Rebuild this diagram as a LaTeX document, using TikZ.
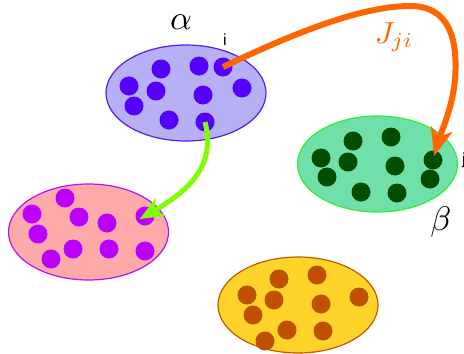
\documentclass[tikz,border=0pt]{standalone}
\usepackage{fontspec}
\newfontfamily\labelsans{Liberation Sans}
\usetikzlibrary{shapes.geometric,arrows.meta}
\definecolor{afill}{HTML}{B8B0F5}\definecolor{aedge}{HTML}{5A1AE8}\definecolor{adot}{HTML}{5500FF}
\definecolor{bfill}{HTML}{70E0AA}\definecolor{bedge}{HTML}{33EE33}\definecolor{bdot}{HTML}{004D00}
\definecolor{pfill}{HTML}{FFAAAA}\definecolor{pedge}{HTML}{BB11EE}\definecolor{pdot}{HTML}{BB00FF}
\definecolor{yfill}{HTML}{FFD42A}\definecolor{yedge}{HTML}{C05A00}\definecolor{ydot}{HTML}{C05000}
\definecolor{orangearr}{HTML}{FF6600}\definecolor{greenarr}{HTML}{7FFF00}
\tikzset{
  group/.style={ellipse, draw, line width=1.2pt, minimum width=160pt, minimum height=96pt, inner sep=0pt},
  dot/.style={circle, fill=#1, minimum size=19pt, inner sep=0pt},
  biglabel/.style={inner sep=0pt},
  smalllabel/.style={inner sep=0pt, font=\labelsans\fontsize{16}{18}\selectfont},
}
\begin{document}
\begin{tikzpicture}[x=1pt,y=-1pt]
\useasboundingbox (0,0) rectangle (464,354);
\clip (0,0) rectangle (464,354);
% groups
\node[group, draw=aedge, fill=afill] (GA) at (186,93) {};
\node[group, draw=bedge, fill=bfill] (GB) at (377.5,164) {};
\node[group, draw=pedge, fill=pfill] (GP) at (88.5,232) {};
\node[group, draw=yedge, fill=yfill] (GY) at (298,305) {};
% alpha dots
\foreach \n/\x/\y in {1/161/69, 2/199/66, 3/223/67, 4/129/86, 5/156/91, 6/242/88, 7/203/95, 8/134/106, 9/169/120, 10/205/122}
  \node[dot=adot] (a\n) at (\x,\y) {};
% beta dots
\foreach \n/\x/\y in {1/353/141, 2/391/137, 3/321/158, 4/348/162, 5/395/166, 6/433/160, 7/327/177, 8/430/179, 9/361/192, 10/397/193}
  \node[dot=bdot] (b\n) at (\x,\y) {};
% pink dots
\foreach \n/\x/\y in {1/65/198, 2/32/214, 3/79/217, 4/107/223, 5/145/216, 6/38/234, 7/73/249, 8/109/249, 9/145/251, 10/51/259}
  \node[dot=pdot] (p\n) at (\x,\y) {};
% yellow dots
\foreach \n/\x/\y in {1/279/279, 2/317/275, 3/247/295, 4/274/300, 5/321/304, 6/359/297, 7/253/315, 8/287/330, 9/323/331, 10/265/341}
  \node[dot=ydot] (y\n) at (\x,\y) {};
% labels
\node[biglabel] (lalpha) at (181,22) {\scalebox{3.4}{$\alpha$}};
\node[biglabel] (lbeta) at (441,222) {\scalebox{3.4}{$\beta$}};
\node[inner sep=0pt, text=orangearr] (lJ) at (394,37) {\scalebox{3.05}{$J_{ji}$}};
\node[smalllabel, anchor=base] (li) at (225,45) {i};
\node[smalllabel, anchor=base west] (lj) at (462,164) {j};
% connectors
\draw[orangearr, line width=6pt, shorten >=4pt, -{Stealth[length=28pt,width=22pt,inset=8pt]}]
  (a3.center) .. controls (290,35) and (360,6) .. (410,6)
  .. controls (450,6) and (458,40) .. (455,80)
  .. controls (452,110) and (440,135) .. (b6.center);
\draw[greenarr, line width=5pt, shorten >=-6pt, -{Stealth[length=24pt,width=20pt,inset=7pt]}]
  (a10.center) .. controls (216,165) and (190,190) .. (p5.center);
\end{tikzpicture}
\end{document}
